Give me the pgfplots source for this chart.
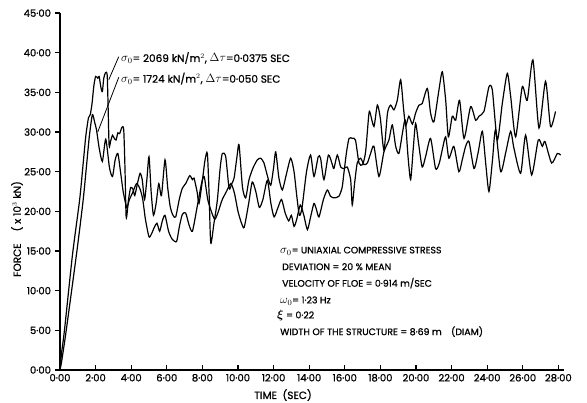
\documentclass[border=0pt]{standalone}
\usepackage{amsmath}
\usepackage{fontspec}
\setmainfont{Poppins}[FakeBold=1]
\usepackage{pgfplots}
\pgfplotsset{compat=1.18}
\pgfplotstableread{
t F
0 0
0.08 2.0
0.25 5.0
0.7 14.5
1.1 21.4
1.3 26.0
1.45 29.5
1.6 31.8
1.7 32.2
1.8 33.6
1.9 35.8
2.0 37.0
2.12 36.8
2.2 37.0
2.3 35.6
2.38 35.1
2.46 36.8
2.56 37.5
2.65 37.2
2.7 33.5
2.76 28.3
2.85 28.9
2.95 29.6
3.05 29.2
3.15 29.0
3.25 29.9
3.35 29.8
3.48 30.6
3.58 30.3
3.65 25.5
3.72 19.2
3.85 21.5
3.97 23.0
4.1 22.8
4.2 22.0
4.35 23.5
4.5 24.8
4.62 24.0
4.75 21.5
4.88 24.0
5.0 26.9
5.12 22.5
5.25 19.5
5.4 21.0
5.55 23.5
5.7 22.0
5.9 26.5
6.05 23.0
6.2 20.5
6.35 19.5
6.5 19.3
6.7 21.5
6.87 22.9
7.06 23.5
7.29 24.5
7.44 24.0
7.53 24.2
7.7 22.5
7.81 21.0
8.0 23.9
8.15 26.5
8.28 27.3
8.38 22.0
8.47 16.0
8.65 18.5
8.84 21.4
9.0 25.5
9.12 27.3
9.31 26.9
9.5 22.9
9.65 23.5
9.78 24.2
9.95 27.0
10.06 28.4
10.25 23.1
10.43 21.7
10.62 24.0
10.85 25.5
11.09 26.5
11.28 26.7
11.46 26.1
11.65 24.5
11.84 23.3
12.0 25.5
12.12 27.5
12.3 24.2
12.49 22.7
12.7 24.5
12.96 26.7
13.15 25.0
13.3 22.0
13.45 19.5
13.6 20.5
13.85 25.0
14.08 27.1
14.27 24.4
14.51 26.9
14.64 26.7
14.83 24.0
15.08 27.1
15.3 25.9
15.39 25.4
15.58 27.1
15.77 25.6
15.96 25.4
16.14 25.6
16.33 24.0
16.42 20.8
16.55 23.5
16.7 26.1
16.89 26.7
17.08 25.9
17.27 26.1
17.45 27.3
17.64 28.2
17.92 24.4
18.2 27.5
18.48 29.0
18.67 30.9
18.86 28.2
19.04 27.3
19.25 30.0
19.4 31.5
19.55 27.0
19.7 24.0
19.85 28.0
19.98 31.1
20.15 28.5
20.35 25.6
20.55 27.0
20.82 29.2
21.1 25.4
21.3 26.0
21.5 28.0
21.67 29.4
21.85 26.7
22.13 28.2
22.41 25.0
22.6 26.5
22.79 28.2
22.98 28.8
23.26 25.4
23.5 27.5
23.73 30.1
23.92 26.0
24.1 22.5
24.3 26.5
24.47 30.3
24.76 25.0
25.05 27.5
25.32 30.1
25.5 28.0
25.88 24.8
26.16 29.6
26.5 24.6
26.87 29.0
27.1 28.2
27.25 28.8
27.62 26.1
27.94 27.3
28.13 27.1
}\curveA
\pgfplotstableread{
t F
0 0
0.1 1.2
0.35 5.0
0.95 15.0
1.3 21.4
1.5 26.0
1.65 29.5
1.82 32.2
1.95 31.2
2.05 30.3
2.2 28.0
2.38 26.3
2.57 29.1
2.78 25.5
2.95 24.4
3.1 26.5
3.25 27.3
3.4 25.0
3.55 22.5
3.75 20.5
3.9 21.5
4.07 22.3
4.3 23.5
4.5 22.8
4.65 21.5
4.8 19.0
5.0 16.8
5.15 17.2
5.3 18.0
5.45 18.5
5.6 17.5
5.75 18.8
5.9 19.5
6.1 17.5
6.3 16.5
6.55 16.2
6.7 18.0
6.87 19.6
7.06 19.8
7.25 18.3
7.44 17.5
7.7 20.5
7.95 23.5
8.1 24.4
8.3 21.5
8.5 20.0
8.7 19.0
8.9 20.0
9.1 21.4
9.35 22.5
9.6 23.5
9.8 22.3
10.0 20.0
10.2 18.5
10.35 18.0
10.6 21.0
10.8 23.7
11.0 22.5
11.2 20.5
11.4 21.5
11.65 23.9
11.85 21.0
12.03 19.3
12.25 20.5
12.45 21.5
12.65 19.8
12.85 18.8
13.0 19.5
13.15 18.1
13.3 19.0
13.5 20.8
13.7 19.5
13.9 17.7
14.1 19.5
14.27 21.0
14.4 20.3
14.55 19.3
14.8 21.5
15.02 22.7
15.2 21.9
15.4 21.7
15.67 21.9
15.85 23.0
15.95 24.8
16.1 27.5
16.24 29.2
16.43 29.2
16.6 29.0
16.8 26.1
17.0 25.9
17.17 27.5
17.36 32.4
17.45 32.2
17.64 30.7
17.83 33.4
18.0 31.7
18.2 27.7
18.4 32.4
18.58 33.4
18.76 32.8
18.95 34.0
19.14 36.6
19.3 33.0
19.42 30.8
19.6 32.0
19.8 31.0
19.98 32.4
20.17 33.4
20.35 33.6
20.64 35.5
20.82 32.4
21.01 31.3
21.29 35.3
21.48 37.6
21.67 34.0
21.82 29.4
22.04 32.0
22.23 31.5
22.45 34.0
22.7 29.2
23.07 33.2
23.35 31.5
23.54 32.0
23.82 32.6
24.1 35.7
24.29 35.3
24.57 29.0
24.85 33.6
25.13 37.4
25.32 34.5
25.6 29.4
25.97 35.7
26.25 34.0
26.57 39.1
26.91 30.5
27.28 36.4
27.56 30.7
27.84 32.6
}\curveB
\begin{document}
\begin{tikzpicture}[x=1pt,y=1pt]
\begin{axis}[
  at={(60pt,33pt)}, anchor=south west,
  scale only axis, width=503.7pt, height=356.9pt,
  xmin=0, xmax=28.3, ymin=0, ymax=45,
  axis x line=bottom, axis y line=left,
  axis line style={-, line width=1.2pt},
  xtick={0,2,...,28}, ytick={0,5,...,45},
  xtick align=inside, ytick align=outside,
  major tick length=5pt,
  every tick/.style={black, line width=1.2pt},
  tick label style={font=\fontsize{10}{11}\selectfont},
  /pgf/number format/.cd, fixed, fixed zerofill, precision=2,
    dec sep={\textperiodcentered}, assume math mode=true,
  /pgfplots/.cd,
  xticklabel style={yshift=-0.5pt},
  yticklabel style={xshift=-0.5pt},
  clip=false,
]
\addplot[black, line width=1.2pt, smooth, tension=0.4] table[x=t, y=F] {\curveA};
\addplot[black, line width=1.2pt, smooth, tension=0.4] table[x=t, y=F] {\curveB};
\draw[line width=0.8pt] (axis cs:3.30,39.5) -- (axis cs:2.74,36.6);
\draw[line width=0.8pt] (axis cs:3.30,36.9) -- (axis cs:2.12,30.0);
\end{axis}
\begin{scope}[every node/.style={font=\fontsize{10.5}{12}\selectfont, inner sep=0pt, anchor=base west}]
\node at (121,341) {{\large$\sigma_{0}$}= 2069 kN/m$^{2}$, {\large$\Delta\tau$}=0\textperiodcentered0375 SEC};
\node at (121,320.3) {{\large$\sigma_{0}$}= 1724 kN/m$^{2}$, {\large$\Delta\tau$}=0\textperiodcentered050 SEC};
\end{scope}
\begin{scope}[every node/.style={font=\fontsize{9.4}{11}\selectfont, inner sep=0pt, anchor=base west}]
\node at (280,149.6) {{\large$\sigma_{0}$}= UNIAXIAL COMPRESSIVE STRESS};
\node at (282,132.9) {DEVIATION = 20 \% MEAN};
\node at (282,116.3) {VELOCITY OF FLOE = 0\textperiodcentered914 m/SEC};
\node at (280,99.6) {{\large$\omega_{0}$}= 1\textperiodcentered23 Hz};
\node at (277,84.6) {{\large$\boldsymbol{\xi}$} = 0\textperiodcentered22};
\node at (280,67.9) {WIDTH OF THE STRUCTURE = 8\textperiodcentered69 m\quad(DIAM)};
\end{scope}
\node[font=\fontsize{10.5}{12}\selectfont, rotate=90, anchor=center, inner sep=0pt] at (17,174) {FORCE\hspace{12pt}( x 10$^{3}$ kN)};
\node[font=\fontsize{10.5}{12}\selectfont, inner sep=0pt, anchor=base] at (283,4) {TIME\ \ (SEC)};
\pgfresetboundingbox
\path[use as bounding box] (0,0) rectangle (587,403);
\end{tikzpicture}
\end{document}
